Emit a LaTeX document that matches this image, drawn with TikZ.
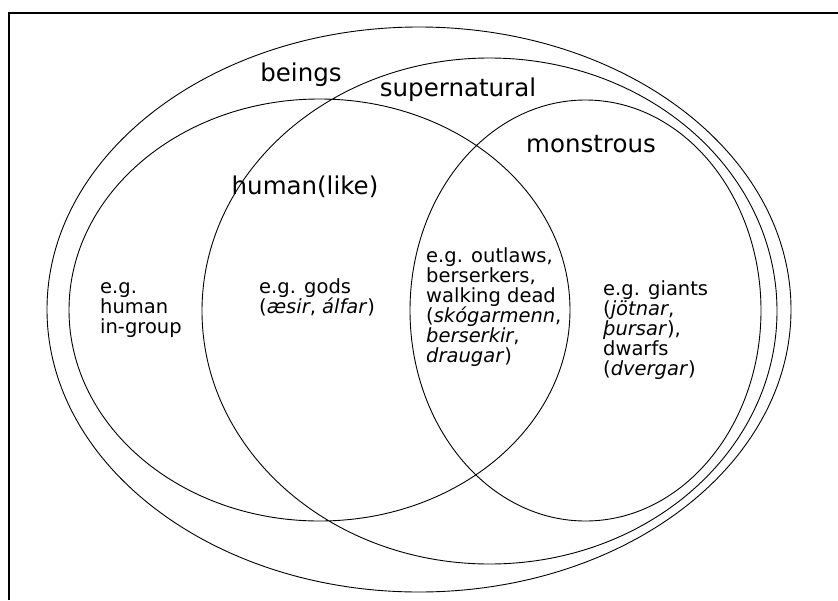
\documentclass[tikz,border=0pt]{standalone}
\usepackage{fontspec}
\setmainfont{DejaVu Sans}
\begin{document}
\begin{tikzpicture}[x=1pt,y=-1pt,
    vong/.style={line width=.9pt},
    nhan/.style={inner sep=0pt,anchor=base,font=\fontsize{24.5pt}{28pt}\selectfont},
    ghichu/.style={inner sep=0pt,anchor=base west,align=left,font=\fontsize{19.5pt}{20pt}\selectfont},]
    \useasboundingbox (0,0) rectangle (838,600);
    \draw[line width=2pt] (9,600)--(9,13)--(838,13);
    \draw[vong]
    (419,309.5) ellipse [x radius=372,y radius=282.5] % <<< vòng 1
    (489.5,311) ellipse [x radius=287.5,y radius=253] % <<< vòng 2
    (319.5,310) ellipse [x radius=250.5,y radius=211] % <<< vòng 3
    (585.5,310.5) ellipse [x radius=175.5,y radius=210.5]; % <<< vòng 4
    \path
    (301,81) node[nhan] (beings) {beings} % <<< nhãn
    (458,96) node[nhan] (super) {supernatural}
    (305,194) node[nhan] (human) {human(like)}
    (591,152) node[nhan] (monster) {monstrous}
    (100,333) node[ghichu] (ingroup) {e.g.\\human\\in-group} % <<< ví dụ (dòng cuối)
    (259,313) node[ghichu] (gods) {e.g. gods\\(\textit{æsir}, \textit{álfar})}
    (426,362) node[ghichu] (outlaws) {e.g. outlaws,\\berserkers,\\walking dead\\(\textit{skógarmenn},\\\textit{berserkir},\\\textit{draugar})}
    (603,375) node[ghichu] (giants) {e.g. giants\\(\textit{jötnar},\\\textit{þursar}),\\dwarfs\\(\textit{dvergar})};
\end{tikzpicture}
\end{document}
